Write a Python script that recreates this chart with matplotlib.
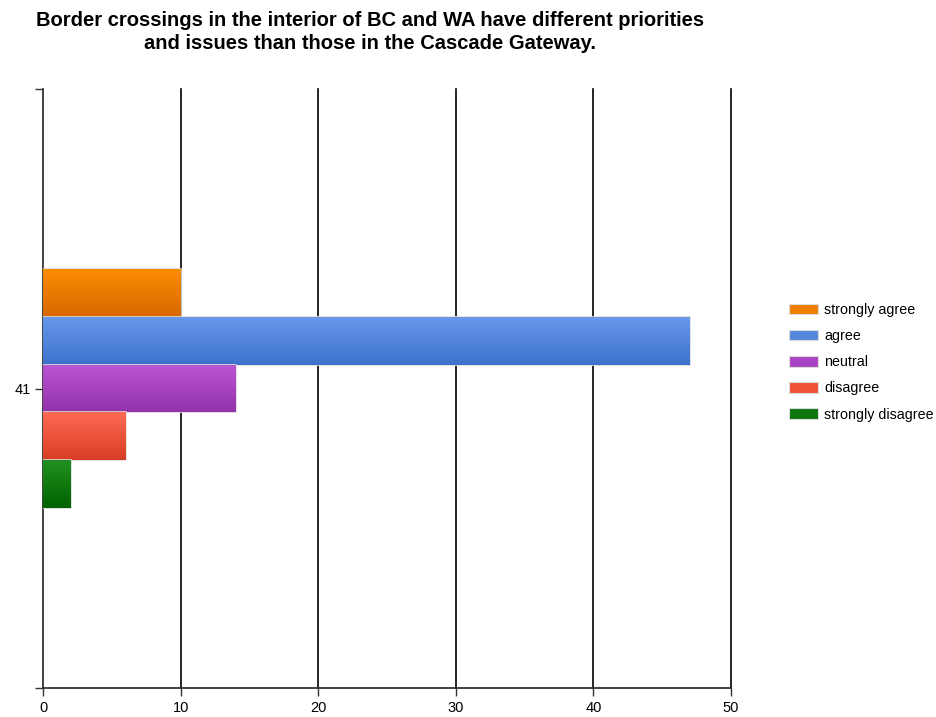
import numpy as np
import matplotlib.pyplot as plt
from matplotlib.colors import LinearSegmentedColormap
from matplotlib.patches import Patch

plt.rcParams['font.family'] = ['Liberation Sans', 'DejaVu Sans']

title = ('Border crossings in the interior of BC and WA have different priorities\n'
         'and issues than those in the Cascade Gateway.')
category = '41'
responses = ['strongly agree', 'agree', 'neutral', 'disagree', 'strongly disagree']
counts = [10, 47, 14, 6, 2]

# top / bottom colours of each bar's vertical gradient, and the legend swatch colour
grad_top = ['#fb8c00', '#6798ea', '#bb56d2', '#ff6a52', '#21901f']
grad_bottom = ['#d86800', '#3d72cc', '#9332ab', '#d83e26', '#006200']
swatch = ['#f07f00', '#5585dd', '#a844c4', '#ee5236', '#0f760f']


def gradient_bar(ax, bar, top, bottom):
    cmap = LinearSegmentedColormap.from_list('g', [bottom, top])
    x0, y0 = bar.get_x(), bar.get_y()
    w, h = bar.get_width(), bar.get_height()
    img = ax.imshow(np.linspace(0, 1, 64).reshape(-1, 1), cmap=cmap, origin='lower',
                    extent=[x0, x0 + w, y0, y0 + h], aspect='auto', zorder=3)
    img.set_clip_path(bar)


fig = plt.figure(figsize=(9.36, 7.17), dpi=100)
ax = fig.add_axes([43 / 936, 29 / 717, 688 / 936, 599 / 717])

h = 0.08
offsets = [2 * h, h, 0, -h, -2 * h]
for val, off, top, bot in zip(counts, offsets, grad_top, grad_bottom):
    bar = ax.barh(off, val, height=h, color=bot, edgecolor='#dcdcdc',
                  linewidth=1.2, zorder=3)[0]
    gradient_bar(ax, bar, top, bot)

ax.set_xlim(0, 50)
ax.set_ylim(-0.5, 0.5)
ax.set_xticks(range(0, 51, 10))
ax.set_yticks([-0.5, 0, 0.5])
ax.set_yticklabels(['', category, ''])
for x in range(10, 51, 10):
    ax.axvline(x, color='black', linewidth=1.2, zorder=1, clip_on=False)
for side in ['top', 'right']:
    ax.spines[side].set_visible(False)
for side in ['left', 'bottom']:
    ax.spines[side].set_linewidth(1.3)
    ax.spines[side].set_color('#333333')
ax.tick_params(axis='both', length=6, width=1, labelsize=10.5, pad=3, color='#333333')

fig.text(370 / 936, 1 - 32 / 717, title, ha='center', va='center',
         fontsize=14.5, fontweight='bold', linespacing=1.25)

handles = [Patch(facecolor=c, edgecolor='#dcdcdc', linewidth=0.8) for c in swatch]
fig.legend(handles, responses, loc='upper left', bbox_to_anchor=(789 / 936, 1 - 303 / 717),
           frameon=False, fontsize=10.3, handlelength=2.0, handleheight=0.75,
           handletextpad=0.45, labelspacing=0.85, borderaxespad=0, borderpad=0)

fig.savefig('out.png', dpi=100)
